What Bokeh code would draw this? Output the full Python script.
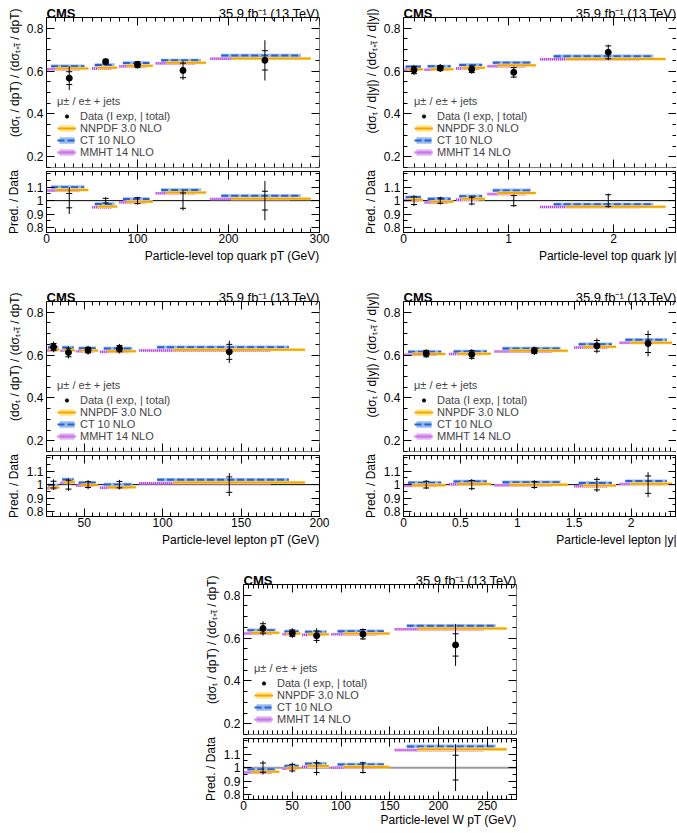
import numpy as np
from bokeh.plotting import figure
from bokeh.models import (Range1d, LinearAxis, SingleIntervalTicker, FixedTicker, Title,
                          Label, Legend, LegendItem, CustomJSTickFormatter, Spacer, Span)
from bokeh.layouts import column, row
from bokeh.embed import file_html
from bokeh.resources import INLINE

FONT = "Liberation Sans"

# ---------------- data ----------------
# Panel 1: particle-level top quark pT
tpt_edges = [0, 50, 80, 120, 180, 300]
tpt_data = [0.567, 0.644, 0.630, 0.603, 0.650]
tpt_exp = [0.030, 0.011, 0.014, 0.034, 0.045]
tpt_tot = [0.056, 0.016, 0.018, 0.044, 0.094]
tpt_nnpdf = [0.612, 0.616, 0.625, 0.639, 0.659]
tpt_ct10 = [0.623, 0.628, 0.6375, 0.650, 0.673]
tpt_mmht = [0.609, 0.6125, 0.622, 0.636, 0.658]

# Panel 2: particle-level top quark |y|
ty_edges = [0, 0.2, 0.5, 0.8, 1.3, 2.6]
ty_data = [0.605, 0.614, 0.608, 0.594, 0.6875]
ty_exp = [0.017, 0.012, 0.015, 0.022, 0.030]
ty_tot = [0.024, 0.018, 0.021, 0.027, 0.036]
ty_nnpdf = [0.609, 0.609, 0.616, 0.627, 0.656]
ty_ct10 = [0.620, 0.622, 0.628, 0.639, 0.669]
ty_mmht = [0.606, 0.606, 0.6125, 0.623, 0.655]

# Panel 3: particle-level lepton pT
lpt_edges = [26, 35, 45, 60, 85, 200]
lpt_data = [0.638, 0.612, 0.623, 0.630, 0.615]
lpt_exp = [0.016, 0.020, 0.013, 0.015, 0.035]
lpt_tot = [0.025, 0.028, 0.021, 0.022, 0.052]
lpt_nnpdf = [0.6246, 0.623, 0.6215, 0.618, 0.6246]
lpt_ct10 = [0.635, 0.635, 0.632, 0.631, 0.637]
lpt_mmht = [0.6215, 0.620, 0.618, 0.615, 0.6215]

# Panel 4: particle-level lepton |y|
ly_edges = [0, 0.4, 0.8, 1.5, 1.9, 2.4]
ly_data = [0.607, 0.603, 0.620, 0.643, 0.654]
ly_exp = [0.015, 0.018, 0.013, 0.025, 0.042]
ly_tot = [0.020, 0.025, 0.020, 0.035, 0.060]
ly_nnpdf = [0.6046, 0.606, 0.620, 0.6385, 0.658]
ly_ct10 = [0.615, 0.617, 0.631, 0.651, 0.671]
ly_mmht = [0.6015, 0.6046, 0.617, 0.6355, 0.657]

# Panel 5: particle-level W pT
wpt_edges = [0, 40, 60, 90, 155, 280]
wpt_data = [0.645, 0.623, 0.611, 0.618, 0.568]
wpt_exp = [0.022, 0.015, 0.022, 0.022, 0.052]
wpt_tot = [0.033, 0.023, 0.035, 0.027, 0.098]
wpt_nnpdf = [0.625, 0.6215, 0.618, 0.6215, 0.645]
wpt_ct10 = [0.637, 0.631, 0.629, 0.632, 0.657]
wpt_mmht = [0.6215, 0.618, 0.615, 0.618, 0.6415]

# prediction uncertainty half-widths
unc_nnpdf = 0.007
unc_ct10 = 0.008
unc_mmht = 0.006

legend_labels = ["Data (I exp, | total)", "NNPDF 3.0 NLO", "CT 10 NLO", "MMHT 14 NLO"]
legend_title = "\u03bc\u00b1 / e\u00b1 + jets"
lumi_text = "35.9 fb\u207b\u00b9 (13 TeV)"

# ---------------- style ----------------
NN_LINE, NN_BAND = "#f5a400", "#ffe680"
CT_LINE, CT_BAND = "#2b5fd9", "#94bbee"
MM_LINE, MM_BAND = "#c43be0", "#dcb6f2"
FW = 273
FH = 150
EXT = 17            # px of head room above the upper box for the CMS / lumi texts
Y0, Y1 = 0.15, 0.85
R0, R1 = 0.765, 1.215


def fmt():
    return CustomJSTickFormatter(code="return String(Math.round(tick*1000)/1000);")


def style_axis(ax, ticker, labels=True, standoff=2):
    ax.ticker = ticker
    ax.formatter = fmt()
    ax.major_tick_in = 8
    ax.major_tick_out = 0
    ax.minor_tick_in = 4
    ax.minor_tick_out = 0
    ax.axis_line_color = "black"
    ax.major_tick_line_color = "black"
    ax.minor_tick_line_color = "black"
    ax.major_label_text_font = FONT
    ax.major_label_text_color = "black"
    ax.axis_label_text_font = FONT
    ax.axis_label_text_font_size = "12px"
    ax.axis_label_text_font_style = "normal"
    ax.axis_label_text_color = "black"
    if labels:
        ax.major_label_text_font_size = "12px"
        ax.major_label_standoff = standoff
    else:
        ax.major_label_text_font_size = "0px"
        ax.major_label_standoff = 0
        ax.axis_label = None


def title_text(text, align, standoff, offset):
    return Title(text=text, align=align, text_font=FONT, text_font_size="12px",
                 text_font_style="normal", text_color="black", standoff=standoff, offset=offset)


def panel(edges, dat, exp, tot, nn, ct, mm, xr, xint, xminor, xlabel, ylabel,
          bottom, right, xt_standoff=3, ref_color="black", ref_width=1):
    lo = np.array(edges[:-1], float)
    hi = np.array(edges[1:], float)
    w = hi - lo
    c = (lo + hi) / 2
    d = np.array(dat, float)
    e = np.array(exp, float)
    t = np.array(tot, float)

    per_px = (Y1 - Y0) / FH
    ytop = Y1 + EXT * per_px
    xrange_ = Range1d(xr[0], xr[1])
    up = figure(frame_width=FW, frame_height=FH + EXT, x_range=xrange_,
                y_range=Range1d(Y0, ytop), output_backend="svg", title=None,
                toolbar_location=None, min_border_left=46, min_border_right=right,
                min_border_top=0, min_border_bottom=1)
    lw = figure(frame_width=FW, frame_height=61, x_range=xrange_,
                y_range=Range1d(R0, R1), output_backend="svg", title=None,
                toolbar_location=None, min_border_left=46, min_border_right=right,
                min_border_top=3, min_border_bottom=bottom)

    for f in (up, lw):
        f.grid.visible = False
        f.background_fill_color = "white"
        f.border_fill_color = "white"
    up.outline_line_color = None
    lw.outline_line_color = "black"

    # ---- upper axes (box drawn by 4 axes) ----
    bx = up.xaxis[0]
    style_axis(bx, SingleIntervalTicker(interval=xint, num_minor_ticks=xminor), labels=False)
    bx.fixed_location = Y0
    ly_ = up.yaxis[0]
    style_axis(ly_, SingleIntervalTicker(interval=0.2, num_minor_ticks=4), standoff=3)
    ly_.bounds = (Y0, Y1)
    ax_t = LinearAxis(fixed_location=Y1)
    style_axis(ax_t, SingleIntervalTicker(interval=xint, num_minor_ticks=xminor), labels=False)
    up.add_layout(ax_t, "above")
    ax_r = LinearAxis(fixed_location=xr[1], bounds=(Y0, Y1))
    style_axis(ax_r, SingleIntervalTicker(interval=0.2, num_minor_ticks=4), labels=False)
    up.add_layout(ax_r, "right")
    up.add_layout(title_text(ylabel, "right", 3, 8), "left")

    # ---- lower axes ----
    rt_major = [0.8, 0.9, 1.0, 1.1]
    rt_minor = list(np.round(np.arange(0.75, 1.25, 0.05), 2))
    style_axis(lw.xaxis[0], SingleIntervalTicker(interval=xint, num_minor_ticks=xminor), standoff=1)
    style_axis(lw.yaxis[0], FixedTicker(ticks=rt_major, minor_ticks=rt_minor), standoff=3)
    lw.yaxis[0].axis_label = "Pred. / Data"
    lw.yaxis[0].axis_label_standoff = 3
    ax_t2 = LinearAxis(fixed_location=R1)
    style_axis(ax_t2, SingleIntervalTicker(interval=xint, num_minor_ticks=xminor), labels=False)
    lw.add_layout(ax_t2, "above")
    ax_r2 = LinearAxis(fixed_location=xr[1])
    style_axis(ax_r2, FixedTicker(ticks=rt_major, minor_ticks=rt_minor), labels=False)
    lw.add_layout(ax_r2, "right")
    lw.add_layout(title_text(xlabel, "right", xt_standoff, 0), "below")

    lw.add_layout(Span(location=1.0, dimension="width", line_color=ref_color,
                       line_width=ref_width, level="underlay"))

    models = [
        (mm, 0.0, MM_LINE, MM_BAND, "1 1", unc_mmht, 2.5),
        (ct, 0.1, CT_LINE, CT_BAND, "7 3", unc_ct10, 2),
        (nn, 0.19, NN_LINE, NN_BAND, "solid", unc_nnpdf, 2),
    ]
    rend = {}
    for vals, off, lc, bc, dash, u, lwid in models:
        v = np.array(vals, float)
        x0 = lo + off * w
        x1 = x0 + 0.73 * w
        b = up.quad(left=x0, right=x1, bottom=v - u, top=v + u, fill_color=bc, line_color=None)
        l = up.segment(x0=x0, y0=v, x1=x1, y1=v, line_color=lc, line_width=lwid, line_dash=dash)
        lw.quad(left=x0, right=x1, bottom=(v - u) / d, top=(v + u) / d, fill_color=bc, line_color=None)
        lw.segment(x0=x0, y0=v / d, x1=x1, y1=v / d, line_color=lc, line_width=lwid, line_dash=dash)
        rend[lc] = [b, l]

    # data upper
    up.segment(x0=c, y0=d - t, x1=c, y1=d + t, line_color="black", line_width=1)
    up.scatter(x=np.concatenate([c, c]), y=np.concatenate([d - e, d + e]), marker="dash",
               size=6, line_color="black", line_width=1)
    dot = up.scatter(x=c, y=d, marker="circle", size=6, fill_color="black", line_color="black")
    # data lower
    lw.segment(x0=c, y0=1 - t / d, x1=c, y1=1 + t / d, line_color="black", line_width=1)
    lw.scatter(x=np.concatenate([c, c]), y=np.concatenate([1 - e / d, 1 + e / d]), marker="dash",
               size=6, line_color="black", line_width=1)

    legend = Legend(items=[
        LegendItem(label=legend_labels[0], renderers=[dot]),
        LegendItem(label=legend_labels[1], renderers=rend[NN_LINE]),
        LegendItem(label=legend_labels[2], renderers=rend[CT_LINE]),
        LegendItem(label=legend_labels[3], renderers=rend[MM_LINE]),
    ], location=(11, 9), title=legend_title,
        title_text_font=FONT, title_text_font_size="11px", title_text_font_style="normal",
        title_standoff=3, label_text_font=FONT, label_text_font_size="11px",
        label_standoff=4, glyph_width=19, glyph_height=8, label_height=12, spacing=0,
        padding=0, margin=0, border_line_alpha=0, background_fill_alpha=0)
    up.add_layout(legend)

    y_txt = Y1 + 4 * per_px
    up.add_layout(Label(x=xr[0], y=y_txt, text="CMS", text_font=FONT, text_font_style="bold",
                        text_font_size="13px", text_baseline="alphabetic", text_align="left",
                        text_color="black"))
    up.add_layout(Label(x=xr[1], y=y_txt, text=lumi_text, text_font=FONT,
                        text_font_size="13px", text_baseline="alphabetic", text_align="right",
                        text_color="black"))
    return column(up, lw)


YL_PT = "(d\u03c3\u209c / dpT) / (d\u03c3\u209c\u208a\u209c\u0304 / dpT)"
YL_Y = "(d\u03c3\u209c / d|y|) / (d\u03c3\u209c\u208a\u209c\u0304 / d|y|)"

p1 = panel(tpt_edges, tpt_data, tpt_exp, tpt_tot, tpt_nnpdf, tpt_ct10, tpt_mmht,
           (0, 300), 100, 10, "Particle-level top quark pT (GeV)", YL_PT, 52, 38)
p2 = panel(ty_edges, ty_data, ty_exp, ty_tot, ty_nnpdf, ty_ct10, ty_mmht,
           (0, 2.6), 1, 10, "Particle-level top quark |y|", YL_Y, 52, 0)
p3 = panel(lpt_edges, lpt_data, lpt_exp, lpt_tot, lpt_nnpdf, lpt_ct10, lpt_mmht,
           (26, 200), 50, 10, "Particle-level lepton pT (GeV)", YL_PT, 51, 38)
p4 = panel(ly_edges, ly_data, ly_exp, ly_tot, ly_nnpdf, ly_ct10, ly_mmht,
           (0, 2.4), 0.5, 10, "Particle-level lepton |y|", YL_Y, 51, 0)
p5 = panel(wpt_edges, wpt_data, wpt_exp, wpt_tot, wpt_nnpdf, wpt_ct10, wpt_mmht,
           (0, 280), 50, 10, "Particle-level W pT (GeV)", YL_PT, 33, 10,
           xt_standoff=-4, ref_color="#999999", ref_width=2)

layout = column(row(p1, p2), row(p3, p4), row(Spacer(width=197, height=10), p5))

open("out.html", "w").write(file_html(layout, INLINE, title="CMS t-channel ratios"))
